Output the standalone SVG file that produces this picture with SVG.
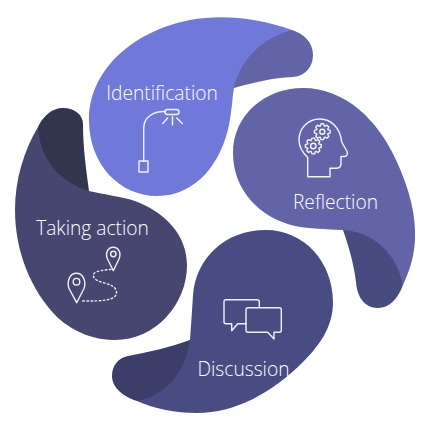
<svg xmlns="http://www.w3.org/2000/svg" width="430" height="430" viewBox="0 0 430 430">
<style>
text{font-family:"Open Sans","Noto Sans",sans-serif;font-weight:300;font-size:19.2px;fill:#fff;text-anchor:middle}
.i{fill:none;stroke:#fff;stroke-width:1.4;stroke-linejoin:round;stroke-linecap:round;opacity:.92}
</style>
<defs>
<polygon id="gear" points="7.9,-1.25 7.9,1.25 5.64,2.05 5.44,2.54 6.47,4.7 4.7,6.47 2.54,5.44 2.05,5.64 1.25,7.9 -1.25,7.9 -2.05,5.64 -2.54,5.44 -4.7,6.47 -6.47,4.7 -5.44,2.54 -5.64,2.05 -7.9,1.25 -7.9,-1.25 -5.64,-2.05 -5.44,-2.54 -6.47,-4.7 -4.7,-6.47 -2.54,-5.44 -2.05,-5.64 -1.25,-7.9 1.25,-7.9 2.05,-5.64 2.54,-5.44 4.7,-6.47 6.47,-4.7 5.44,-2.54 5.64,-2.05"/>
</defs>
<g id="identification">
<path fill="#7079DA" d="M292 30C258 18 222 14 190 20C130 32 89 72 89 120C89 165 120 196 157 196C198 196 222 160 229 125C232 110 232 100 234 88L292 50Z"/>
<path fill="#6264A7" d="M292 30C262 38 240 60 234 88C255 82 272 78 293 77C306 76 313 66 313 55C313 42 304 34 292 30Z"/>
<text x="162" y="99.5">Identification</text>
<path class="i" d="M143.700 161V128C143.700 118 153 111 165 111.500"/>
<rect class="i" x="139" y="161" width="9" height="11"/>
<rect class="i" x="165" y="109.500" width="14" height="5" rx="2.500"/>
<path class="i" d="M172.500 116.500V125M167.700 118L162.700 123.500M176.700 118L182.300 123.500"/>
</g>
<g id="reflection">
<path fill="#6264A7" d="M233 153C233 115 265 88 303 88C345 88 378 120 396 160C410 190 416 215 415 240C414 258 409 272 403 285L343 230C325 229 310 229 295 226C260 218 233 190 233 153Z"/>
<path fill="#474B80" d="M343 230C375 232 397 255 403 285C398 299 389 308 378 308C364 308 357 296 356 282C354 265 349 247 343 230Z"/>
<text x="335.500" y="208.500">Reflection</text>
<path class="i" d="M307.700 176.700H330V168.300H336C339.500 168.300 341 166 341 163.500V156.500H344.500C347 156.500 348 153.500 347 151.500L341.700 142C340.500 128 331 119 320 119C308 119 299 128 299 140C299 147 302.500 152.500 307.700 157.500Z"/>
<use href="#gear" class="i" transform="translate(322.300 131.700)"/>
<circle class="i" cx="322.300" cy="131.700" r="2.500"/>
<use href="#gear" class="i" transform="translate(313.300 146)"/>
<circle class="i" cx="313.300" cy="146" r="2.700"/>
</g>
<g id="discussion">
<path fill="#494C82" d="M266 230C225 230 196 258 193 295C192 312 191 325 190 340L137 401C155 409 175 413 197 413C235 413 272 393 303 362C322 343 333 325 333 302C333 262 304 230 266 230Z"/>
<path fill="#3D3D69" d="M190 340C170 347 150 352 128 356C118 358 112 366 112 376C112 388 124 397 137 401C165 396 186 372 190 340Z"/>
<text x="243.500" y="376">Discussion</text>
<path class="i" d="M259.300 307.300V301.700C259.300 300.500 258.300 299.700 257 299.700H226C224.800 299.700 224 300.500 224 301.700V321.700C224 323 224.800 323.700 226 323.700H231.700V330.700L237.700 323.700H246"/>
<path class="i" d="M248 307.700H279.300C280.500 307.700 281.300 308.500 281.300 309.700V330.300C281.300 331.500 280.500 332.300 279.300 332.300H274V339L267.700 332.300H248C246.800 332.300 246 331.500 246 330.300V309.700C246 308.500 246.800 307.700 248 307.700Z"/>
</g>
<g id="taking-action">
<path fill="#474670" d="M38 127C24 150 15 180 15 210C15 250 30 290 58 318C75 333 95 340 115 340C155 340 187 305 187 265C187 235 165 212 135 201C120 196 105 195 89 191L60 150Z"/>
<path fill="#33344E" d="M38 127C40 160 60 182 89 191C86 168 83 148 83 124C83 115 75 108 63 108C52 108 43 116 38 127Z"/>
<text x="92.500" y="235">Taking action</text>
<path class="i" d="M76.700 302.700L69 288.500C66.500 281 70 273.300 76.400 273.300C83 273.300 86.500 281 84 288.500Z"/>
<circle class="i" cx="76.500" cy="281.700" r="3.300"/>
<path class="i" d="M113.300 270.700L107.500 259C105 253 108 247.300 113.300 247.300C118.500 247.300 121.500 253 119 259Z"/>
<circle class="i" cx="113.300" cy="254" r="2.700"/>
<path class="i" stroke-dasharray="1.500 2.600" d="M82.700 301C92 301 100 301 106 300C113 299 117 296 116.500 292C116 286 108 284 101 282C95 280 92 277 94 273.500C97 270.500 105 270 111.500 269.300"/>
</g>
</svg>
